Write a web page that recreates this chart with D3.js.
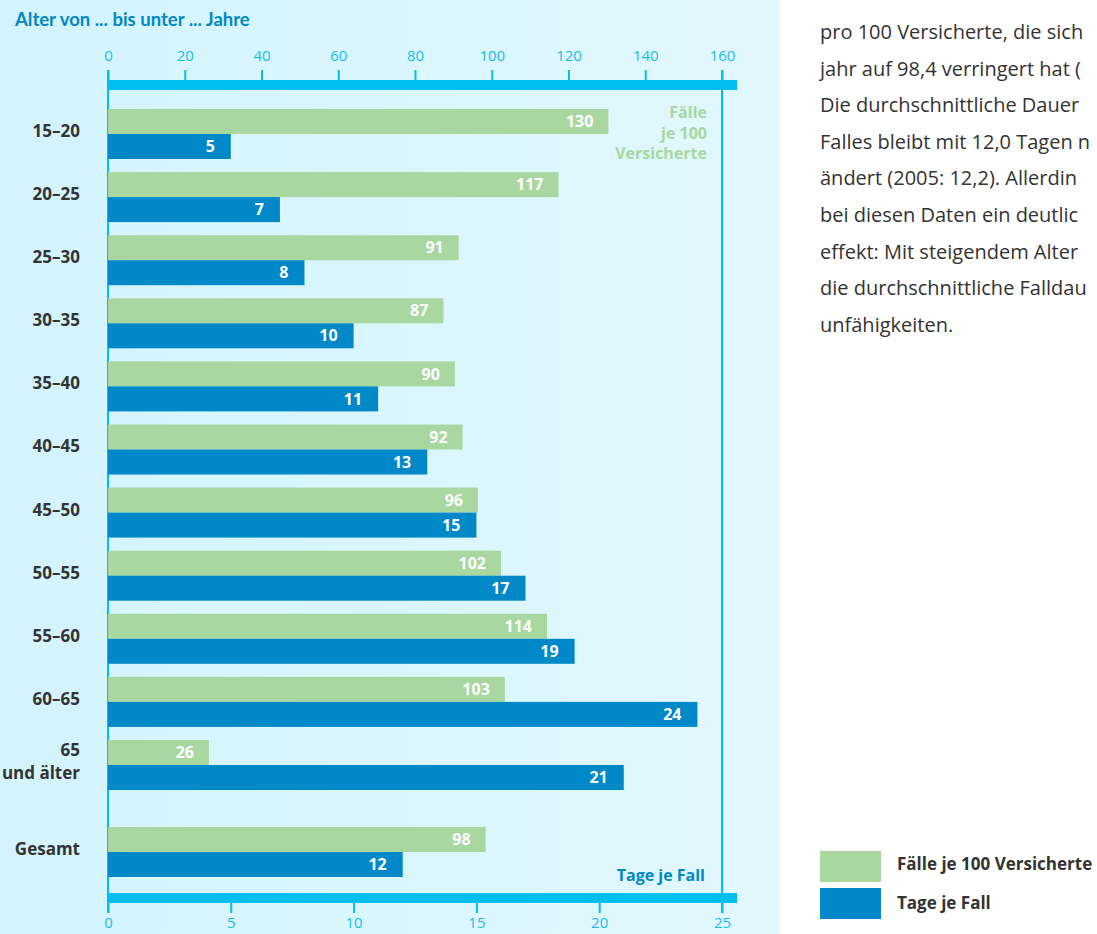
<!DOCTYPE html>
<html><head><meta charset="utf-8">
<script src="https://cdn.jsdelivr.net/npm/d3@7"></script>
<style>
html,body{margin:0;padding:0;background:#fff;}
svg{display:block;}
</style></head>
<body>
<script>
// ---- data ----
const categories = ["15–20","20–25","25–30","30–35","35–40","40–45","45–50","50–55","55–60","60–65","65\nund älter","Gesamt"];
const faelle = [130.4,117.4,91.4,87.4,90.4,92.4,96.4,102.4,114.4,103.4,26.3,98.4];
const tage = [5,7,8,10,11,13,15,17,19,24,21,12];
const topTicks = [0,20,40,60,80,100,120,140,160];
const bottomTicks = [0,5,10,15,20,25];
const seriesNames = ["Fälle je 100 Versicherte","Tage je Fall"];
const textLines = [
  "pro 100 Versicherte, die sich",
  "jahr auf 98,4 verringert hat (",
  "Die durchschnittliche Dauer",
  "Falles bleibt mit 12,0 Tagen n",
  "ändert (2005: 12,2). Allerdin",
  "bei diesen Daten ein deutlic",
  "effekt: Mit steigendem Alter",
  "die durchschnittliche Falldau",
  "unfähigkeiten."
];

const W = 1097, H = 934;
const green = "#a8d8a0", blue = "#0088c8", cyan = "#00bff0", tickCol = "#18bdee", dark = "#333333";
const font = "'Open Sans', sans-serif";

const svg = d3.select("body").append("svg").attr("width", W).attr("height", H);
const defs = svg.append("defs");
const grad = defs.append("linearGradient").attr("id","bg").attr("x1","0").attr("x2","1").attr("y1","0").attr("y2","0");
grad.append("stop").attr("offset","0").attr("stop-color","#d3f4fd");
grad.append("stop").attr("offset","1").attr("stop-color","#e1f8fd");
svg.append("rect").attr("x",0).attr("y",0).attr("width",780).attr("height",H).attr("fill","url(#bg)");

const xTop = d3.scaleLinear().domain([0,160]).range([108,722]);
const xBot = d3.scaleLinear().domain([0,25]).range([108,722]);

// row positions
const band = d3.scaleBand().domain(d3.range(11)).range([109, 109 + 63.1*11]);
const rowY = i => i < 11 ? band(i) : band(10) + 87;
const barH = 25;

// vertical lines
[0,160].forEach(v => {
  svg.append("line").attr("x1", xTop(v)).attr("x2", xTop(v)).attr("y1", 70).attr("y2", 913)
    .attr("stroke", cyan).attr("stroke-width", 2);
});

// top axis
const gTop = svg.append("g").attr("transform","translate(0,80)")
  .call(d3.axisTop(xTop).tickValues(topTicks).tickSize(10).tickPadding(9));
gTop.select(".domain").remove();
gTop.selectAll(".tick line").attr("stroke", cyan).attr("stroke-width", 2);
gTop.selectAll(".tick text").attr("fill", tickCol).attr("font-family", font).attr("font-size", 15);
svg.append("rect").attr("x",108).attr("y",80).attr("width",737-108).attr("height",10).attr("fill",cyan);

// bottom axis
const gBot = svg.append("g").attr("transform","translate(0,903)")
  .call(d3.axisBottom(xBot).tickValues(bottomTicks).tickSize(10).tickPadding(4));
gBot.select(".domain").remove();
gBot.selectAll(".tick line").attr("stroke", cyan).attr("stroke-width", 2);
gBot.selectAll(".tick text").attr("fill", tickCol).attr("font-family", font).attr("font-size", 15);
svg.append("rect").attr("x",108).attr("y",893).attr("width",737-108).attr("height",10).attr("fill",cyan);

// bars
const rows = categories.map((c,i) => ({c, f: faelle[i], t: tage[i], i}));
const g = svg.append("g");
g.selectAll("rect.f").data(rows).join("rect").attr("class","f")
  .attr("x", xTop(0)).attr("y", d => rowY(d.i)).attr("width", d => xTop(d.f) - xTop(0)).attr("height", barH).attr("fill", green);
g.selectAll("rect.t").data(rows).join("rect").attr("class","t")
  .attr("x", xBot(0)).attr("y", d => rowY(d.i) + barH).attr("width", d => xBot(d.t) - xBot(0)).attr("height", barH).attr("fill", blue);

g.selectAll("text.fl").data(rows).join("text").attr("class","fl")
  .attr("x", d => xTop(d.f) - 15).attr("y", d => rowY(d.i) + barH/2).attr("dy","0.35em")
  .attr("text-anchor","end").attr("fill","#fff").attr("font-family",font).attr("font-weight","bold").attr("font-size",16)
  .text(d => Math.round(d.f));
g.selectAll("text.tl").data(rows).join("text").attr("class","tl")
  .attr("x", d => xBot(d.t) - 16).attr("y", d => rowY(d.i) + barH*1.5).attr("dy","0.35em")
  .attr("text-anchor","end").attr("fill","#fff").attr("font-family",font).attr("font-weight","bold").attr("font-size",16)
  .text(d => Math.round(d.t));

// category labels
rows.forEach(d => {
  const lines = d.c.split("\n");
  const yb = rowY(d.i) + barH;
  const t = svg.append("text").attr("text-anchor","end").attr("fill",dark)
    .attr("font-family",font).attr("font-weight","bold").attr("font-size",17);
  if (lines.length === 1) {
    t.append("tspan").attr("x",80).attr("y", yb - 3).attr("dy","0.35em").text(lines[0]);
  } else {
    t.append("tspan").attr("x",80).attr("y", yb - 15).attr("dy","0.35em").text(lines[0]);
    t.append("tspan").attr("x",80).attr("y", yb + 8).attr("dy","0.35em").text(lines[1]);
  }
});

// title
svg.append("text").attr("x",15).attr("y",20).attr("dy","0.35em").attr("fill",blue)
  .attr("font-family","Lato, sans-serif").attr("font-weight","bold").attr("font-size",18.5)
  .text("Alter von ... bis unter ... Jahre");

// in-chart series labels
const fl = svg.append("text").attr("text-anchor","end").attr("fill",green)
  .attr("font-family",font).attr("font-weight","bold").attr("font-size",16);
["Fälle","je 100","Versicherte"].forEach((s,k) => {
  fl.append("tspan").attr("x",707).attr("y",[112,133,153][k]).attr("dy","0.35em").text(s);
});
svg.append("text").attr("x",705).attr("y",875).attr("dy","0.35em").attr("text-anchor","end")
  .attr("fill",blue).attr("font-family",font).attr("font-weight","bold").attr("font-size",16).text(seriesNames[1]);

// right text
svg.append("g").selectAll("text").data(textLines).join("text")
  .attr("x",820).attr("y",(d,i) => 39 + i*36.6)
  .attr("fill",dark).attr("font-family",font).attr("font-size",20).text(d => d);

// legend
const leg = svg.append("g");
[green, blue].forEach((c,k) => {
  leg.append("rect").attr("x",820).attr("y",[851,888][k]).attr("width",61).attr("height",31).attr("fill",c);
  leg.append("text").attr("x",897).attr("y",[864,903][k]).attr("dy","0.35em").attr("fill",dark)
    .attr("font-family",font).attr("font-weight","bold").attr("font-size",17).text(seriesNames[k]);
});
</script>
</body></html>
